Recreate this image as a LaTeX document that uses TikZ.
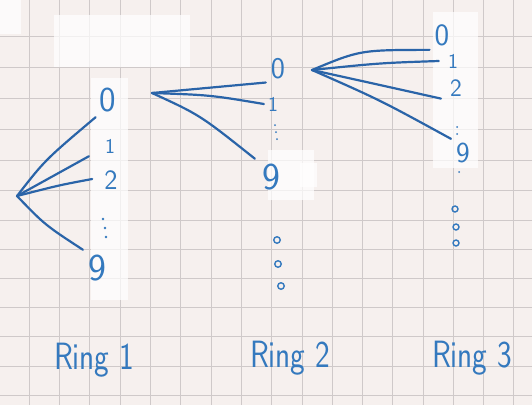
\documentclass[tikz,border=0pt]{standalone}
\usepackage{fontspec}
\setsansfont{Latin Modern Sans}
\definecolor{paper}{HTML}{F6F0EE}
\definecolor{gridc}{HTML}{CFC9C9}
\definecolor{ink}{HTML}{2A64A8}
\definecolor{inktext}{HTML}{3479BE}
\begin{document}
\begin{tikzpicture}[x=1pt,y=-1pt,
  digit/.style={text=inktext,font=\sffamily\fontsize{28}{28}\selectfont,inner sep=1pt},
  bigdigit/.style={digit,font=\sffamily\fontsize{35}{35}\selectfont},
  smalldigit/.style={digit,font=\sffamily\fontsize{21}{21}\selectfont},
  ringlabel/.style={text=inktext,font=\sffamily\fontsize{38}{38}\selectfont,inner sep=0pt,xscale=0.82,transform shape},
  fan/.style={draw=ink,line width=2.2pt,line cap=round},
  tape/.style={fill=white,fill opacity=0.72},
  vdot/.style={fill=inktext,circle,minimum size=2.6pt,inner sep=0pt},
  ringdot/.style={draw=inktext,line width=1.4pt,circle,minimum size=6.5pt,inner sep=0pt}]
\fill[paper] (0,0) rectangle (532,405);
\useasboundingbox (0,0) rectangle (532,405);
% grid
\foreach \gx in {29,59,89,120,150,180,211,241,271,302,332,362,392,423,453,483,513}
  \draw[gridc,line width=0.8pt] (\gx,0) -- (\gx,405);
\foreach \gy in {36,67,98,129,160,190,220,249,278,307,336,366,395}
  \draw[gridc,line width=0.8pt] (0,\gy) -- (532,\gy);
% correction tape patches
\fill[tape] (0,0) rectangle (21,34);
\fill[tape] (54,15) rectangle (190,67);
\fill[tape] (91,78) rectangle (128,300);
\fill[tape] (268,150) rectangle (314,200);
\fill[tape] (300,163) rectangle (317,187);
\fill[tape] (433,12) rectangle (478,168);
% Ring 1
\coordinate (o1) at (17,196);
\node[bigdigit] (a0) at (108,100) {0};
\node[smalldigit] (a1) at (110,146) {1};
\node[digit] (a2) at (111,180) {2};
\node[vdot] (ad1) at (103,219) {};
\node[vdot] (ad2) at (105,228) {};
\node[vdot] (ad3) at (106,237) {};
\node[bigdigit,font=\sffamily\fontsize{38}{38}\selectfont] (a9) at (97,268) {9};
\draw[fan] (o1) .. controls (45,160) .. ([xshift=-3pt,yshift=-4pt]a0.south west);
\draw[fan] (o1) -- ([xshift=-15pt,yshift=-2pt]a1.south west);
\draw[fan] (o1) .. controls (60,185) .. ([xshift=-11pt,yshift=1pt]a2.west);
\draw[fan] (o1) .. controls (45,225) .. ([xshift=-4pt,yshift=4pt]a9.north west);
% Ring 2
\coordinate (o2) at (152,93);
\node[digit,font=\sffamily\fontsize{30}{30}\selectfont] (b0) at (278,69) {0};
\node[smalldigit] (b1) at (273,104) {1};
\node[vdot,minimum size=2pt] (bd1) at (275,125) {};
\node[vdot,minimum size=2pt] (bd2) at (276,132) {};
\node[vdot,minimum size=2pt] (bd3) at (277,139) {};
\node[bigdigit,font=\sffamily\fontsize{38}{38}\selectfont] (b9) at (271,177) {9};
\draw[fan] (o2) -- ([xshift=-4pt,yshift=-2pt]b0.south west);
\draw[fan] (o2) .. controls (210,95) .. ([xshift=-3pt]b1.west);
\draw[fan] (o2) .. controls (200,115) .. ([xshift=-6pt,yshift=4pt]b9.north west);
\node[ringdot] (bc1) at (277,240) {};
\node[ringdot] (bc2) at (278,264) {};
\node[ringdot] (bc3) at (281,286) {};
% Ring 3
\coordinate (o3) at (312,70);
\node[digit,font=\sffamily\fontsize{31}{31}\selectfont] (c0) at (442,35) {0};
\node[smalldigit] (c1) at (453,61) {1};
\node[digit,font=\sffamily\fontsize{25}{25}\selectfont] (c2) at (456,88) {2};
\node[vdot,minimum size=2pt] (cd1) at (457,127) {};
\node[vdot,minimum size=2pt] (cd2) at (457,134) {};
\node[vdot,minimum size=2pt] (cd3) at (459,172) {};
\node[digit,font=\sffamily\fontsize{29}{29}\selectfont] (c9) at (463,153) {9};
\draw[fan] (o3) .. controls (360,50) .. ([xshift=-4pt,yshift=-3pt]c0.south west);
\draw[fan] (o3) .. controls (380,63) .. ([xshift=-8pt]c1.west);
\draw[fan] (o3) .. controls (380,85) .. ([xshift=-8pt,yshift=-1pt]c2.south west);
\draw[fan] (o3) .. controls (380,100) .. ([xshift=-4pt,yshift=3pt]c9.north west);
\node[ringdot,minimum size=6pt] (cc1) at (455,209) {};
\node[ringdot,minimum size=6pt] (cc2) at (456,227) {};
\node[ringdot,minimum size=6pt] (cc3) at (456,243) {};
% labels
\node[ringlabel] (l1) at (94,360) {Ring 1};
\node[ringlabel] (l2) at (290,358) {Ring 2};
\node[ringlabel] (l3) at (472,358) {Ring 3};
\end{tikzpicture}
\end{document}
